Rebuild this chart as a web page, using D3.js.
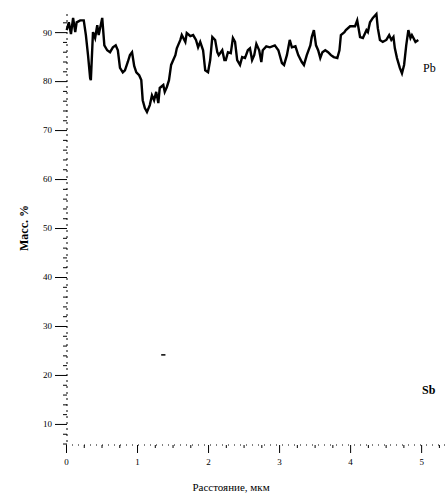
<!DOCTYPE html>
<html>
<head>
<meta charset="utf-8">
<script src="https://cdn.jsdelivr.net/npm/d3@7"></script>
<style>
  body { margin: 0; background: #fff; }
  svg { display: block; color: #000; }
  text { font-family: "Liberation Serif", "DejaVu Serif", serif; fill: #000; }
</style>
</head>
<body>
<svg id="chart" width="446" height="496"></svg>
<script>
// Pb profile
const pbDist = [0.01, 0.04, 0.07, 0.10, 0.13, 0.15, 0.20, 0.25, 0.28, 0.31, 0.34, 0.35, 0.38, 0.41, 0.44, 0.46,
  0.51, 0.54, 0.58, 0.62, 0.66, 0.70, 0.73, 0.76, 0.80, 0.83, 0.87, 0.90, 0.93, 0.96, 0.99, 1.03, 1.06, 1.08,
  1.11, 1.14, 1.18, 1.21, 1.24, 1.27, 1.30, 1.32, 1.37, 1.39, 1.42, 1.45, 1.48, 1.51, 1.54, 1.56, 1.61, 1.63,
  1.68, 1.70, 1.75, 1.79, 1.83, 1.86, 1.89, 1.93, 1.96, 2.00, 2.03, 2.06, 2.10, 2.13, 2.15, 2.20, 2.23, 2.25,
  2.28, 2.32, 2.35, 2.38, 2.41, 2.45, 2.48, 2.52, 2.56, 2.59, 2.62, 2.65, 2.68, 2.72, 2.75, 2.77, 2.82, 2.87,
  2.94, 2.99, 3.04, 3.07, 3.11, 3.15, 3.18, 3.23, 3.27, 3.32, 3.35, 3.39, 3.44, 3.46, 3.49, 3.52, 3.55, 3.58,
  3.61, 3.65, 3.69, 3.73, 3.77, 3.82, 3.85, 3.87, 3.92, 3.94, 4.00, 4.07, 4.10, 4.14, 4.18, 4.23, 4.25, 4.28,
  4.32, 4.37, 4.39, 4.42, 4.46, 4.51, 4.55, 4.58, 4.61, 4.63, 4.66, 4.70, 4.73, 4.76, 4.79, 4.82, 4.85, 4.87,
  4.92, 4.96];
const pbMass = [90.4, 92.0, 89.6, 92.9, 90.0, 92.0, 92.4, 92.4, 89.4, 85.3, 80.6, 80.2, 90.0, 88.8, 91.4, 89.4,
  92.9, 87.3, 86.3, 85.9, 86.9, 87.3, 86.3, 82.7, 81.8, 82.2, 83.9, 85.3, 85.9, 83.1, 81.8, 81.2, 80.2, 76.1,
  74.5, 73.7, 75.1, 77.1, 76.1, 77.8, 75.5, 78.6, 79.2, 77.8, 78.8, 80.2, 83.3, 84.3, 85.3, 86.7, 88.4, 89.4,
  88.0, 89.8, 89.2, 89.4, 88.4, 86.9, 88.0, 86.3, 82.2, 81.8, 84.3, 89.0, 88.4, 85.9, 85.3, 86.3, 84.3, 84.3,
  85.9, 85.7, 88.8, 88.0, 84.3, 83.3, 84.9, 84.7, 86.3, 86.7, 84.3, 85.3, 87.6, 86.3, 83.9, 86.3, 87.1, 86.9,
  87.3, 86.3, 83.7, 83.3, 85.3, 88.4, 86.9, 87.1, 85.3, 83.9, 83.3, 85.3, 87.3, 89.0, 90.4, 87.3, 86.3, 84.7,
  85.9, 86.3, 85.9, 85.3, 84.9, 84.7, 86.3, 89.4, 90.0, 90.4, 91.2, 91.2, 92.4, 89.0, 88.8, 90.4, 90.0, 92.0,
  92.9, 93.7, 90.8, 88.4, 88.0, 88.4, 89.4, 88.4, 89.0, 86.7, 84.7, 82.7, 81.6, 83.3, 87.3, 90.4, 88.8, 89.4,
  88.0, 88.4];

// Sb: only a tiny fragment is visible
const sbDist = [1.34, 1.40];
const sbMass = [24.1, 24.1];

const xTicks = [0, 1, 2, 3, 4, 5];
const xMinor = [0.25, 0.5, 0.75, 1.25, 1.5, 1.75, 2.25, 2.5, 2.75, 3.25, 3.5, 3.75, 4.25, 4.5, 4.75, 5.25];
const yTicks = [10, 20, 30, 40, 50, 60, 70, 80, 90];
const yMinor = [6, 8, 12, 14, 16, 18, 22, 24, 26, 28, 32, 34, 36, 38, 42, 44, 46, 48, 52, 54, 56, 58,
  62, 64, 66, 68, 72, 74, 76, 78, 82, 84, 86, 88, 92];

const svg = d3.select("#chart");

const x = d3.scaleLinear().domain([0, 5.35]).range([66, 446]);
const y = d3.scaleLinear().domain([5.7, 93.7]).range([445, 14]);

// x axis (dotted baseline)
const xAxis = svg.append("g").attr("transform", "translate(0,445)");
xAxis.call(d3.axisBottom(x).tickValues(xTicks).tickSize(8).tickPadding(6).tickFormat(d3.format("d")));
xAxis.select(".domain").attr("stroke-dasharray", "1,5").attr("d", "M66,0H446");
xAxis.selectAll("text").attr("font-size", "9px").attr("fill", "#000");

svg.append("g").attr("transform", "translate(0,445)")
  .call(d3.axisBottom(x).tickValues(xMinor).tickSize(3).tickFormat(""))
  .call(g => g.select(".domain").remove());

// y axis (dotted spine)
const yAxis = svg.append("g").attr("transform", "translate(67,0)");
yAxis.call(d3.axisLeft(y).tickValues(yTicks).tickSize(12).tickPadding(3).tickFormat(d3.format("d")));
yAxis.select(".domain").attr("stroke-dasharray", "2,4").attr("d", "M0,14V445");
yAxis.selectAll("text").attr("font-size", "9px").attr("fill", "#000");

svg.append("g").attr("transform", "translate(67,0)")
  .call(d3.axisLeft(y).tickValues(yMinor).tickSize(4).tickFormat(""))
  .call(g => g.select(".domain").remove());

// axis titles
svg.append("text")
  .attr("transform", "translate(28,228) rotate(-90)")
  .attr("text-anchor", "middle")
  .attr("font-size", "12px")
  .attr("font-weight", "bold")
  .text("Масс. %");

svg.append("text")
  .attr("x", 231)
  .attr("y", 491)
  .attr("text-anchor", "middle")
  .attr("font-size", "11px")
  .attr("font-family", "Liberation Sans, sans-serif")
  .text("Расстояние, мкм");

// profiles
const line = d3.line().x(d => x(d[0])).y(d => y(d[1]));

svg.append("path")
  .datum(pbDist.map((d, i) => [d, pbMass[i]]))
  .attr("fill", "none")
  .attr("stroke", "#000")
  .attr("stroke-width", 2.4)
  .attr("stroke-linejoin", "miter")
  .attr("d", line);

svg.append("path")
  .datum(sbDist.map((d, i) => [d, sbMass[i]]))
  .attr("fill", "none")
  .attr("stroke", "#000")
  .attr("stroke-width", 1.5)
  .attr("d", line);

// element labels
svg.append("text").attr("x", 423).attr("y", 72).attr("font-size", "12px").text("Pb");
svg.append("text").attr("x", 422).attr("y", 394).attr("font-size", "12px").attr("font-weight", "bold").text("Sb");
</script>
</body>
</html>
